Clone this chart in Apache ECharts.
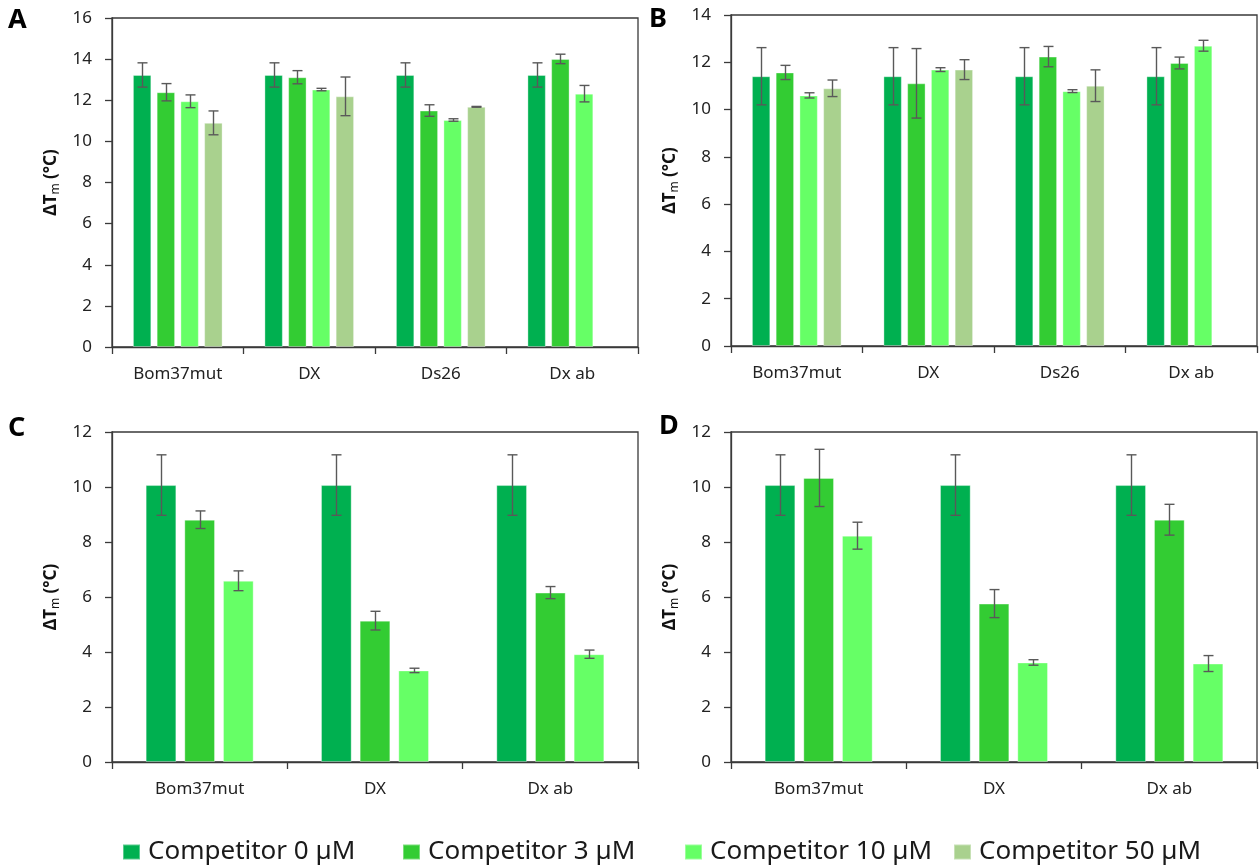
<!DOCTYPE html>
<html>
<head>
<meta charset="utf-8">
<script src="https://cdn.jsdelivr.net/npm/echarts@6/dist/echarts.min.js"></script>
<style>
html,body{margin:0;padding:0;background:#fff;}
#chart{width:1260px;height:867px;}
</style>
</head>
<body>
<div id="chart"></div>
<script>
// ---------- DATA ----------
const cats4 = ['Bom37mut', 'DX', 'Ds26', 'Dx ab'];
const cats3 = ['Bom37mut', 'DX', 'Dx ab'];
const seriesNames = ['Competitor 0 µM', 'Competitor 3 µM', 'Competitor 10 µM', 'Competitor 50 µM'];
const colors = ['#00B050', '#33CC33', '#66FF66', '#A9D18E'];

// Panel A
const A_c0 = [13.23, 13.23, 13.23, 13.23];
const A_c0_err = [0.59, 0.59, 0.59, 0.59];
const A_c3 = [12.39, 13.12, 11.50, 14.01];
const A_c3_err = [0.42, 0.32, 0.28, 0.23];
const A_c10 = [11.95, 12.52, 11.04, 12.32];
const A_c10_err = [0.31, 0.06, 0.06, 0.40];
const A_c50 = [10.90, 12.19, 11.68, null];
const A_c50_err = [0.58, 0.94, 0.02, null];

// Panel B
const B_c0 = [11.41, 11.41, 11.41, 11.41];
const B_c0_err = [1.21, 1.21, 1.21, 1.21];
const B_c3 = [11.57, 11.11, 12.24, 11.97];
const B_c3_err = [0.30, 1.47, 0.43, 0.25];
const B_c10 = [10.60, 11.69, 10.78, 12.70];
const B_c10_err = [0.11, 0.08, 0.06, 0.23];
const B_c50 = [10.90, 11.69, 11.01, null];
const B_c50_err = [0.35, 0.42, 0.67, null];

// Panel C
const C_c0 = [10.07, 10.07, 10.07];
const C_c0_err = [1.10, 1.10, 1.10];
const C_c3 = [8.81, 5.14, 6.16];
const C_c3_err = [0.32, 0.34, 0.22];
const C_c10 = [6.59, 3.33, 3.92];
const C_c10_err = [0.36, 0.08, 0.15];

// Panel D
const D_c0 = [10.07, 10.07, 10.07];
const D_c0_err = [1.10, 1.10, 1.10];
const D_c3 = [10.33, 5.76, 8.81];
const D_c3_err = [1.04, 0.51, 0.56];
const D_c10 = [8.23, 3.62, 3.58];
const D_c10_err = [0.49, 0.10, 0.29];

// Y-axis ranges / ticks
const yMax = [16, 14, 12, 12];
const yInterval = 2;

// ---------- CHART ----------
const FONT = 'Noto Sans';
const TXT = '#222';
const LINE = '#3a3a3a';

const panels = [
  {cats: cats4, vals: [A_c0, A_c3, A_c10, A_c50], errs: [A_c0_err, A_c3_err, A_c10_err, A_c50_err], bw: 0.14, gap: 0.29},
  {cats: cats4, vals: [B_c0, B_c3, B_c10, B_c50], errs: [B_c0_err, B_c3_err, B_c10_err, B_c50_err], bw: 0.14, gap: 0.29},
  {cats: cats3, vals: [C_c0, C_c3, C_c10], errs: [C_c0_err, C_c3_err, C_c10_err], bw: 0.175, gap: 0.26},
  {cats: cats3, vals: [D_c0, D_c3, D_c10], errs: [D_c0_err, D_c3_err, D_c10_err], bw: 0.175, gap: 0.26}
];

const grids = [
  {left: 112, top: 18, right: 622, height: 329},
  {left: 731, top: 15, right: 3, height: 331},
  {left: 112, top: 432, right: 622, height: 330},
  {left: 731, top: 432, right: 3, height: 330}
].map(g => Object.assign(g, {show: true, borderColor: LINE, borderWidth: 1.3, backgroundColor: 'transparent'}));

const xAxes = panels.map((p, i) => ({
  type: 'category', gridIndex: i, data: p.cats,
  axisLine: {lineStyle: {color: LINE, width: 1.3}},
  axisTick: {show: true, length: 7, lineStyle: {color: LINE, width: 1.3}},
  axisLabel: {fontFamily: FONT, fontSize: 17, color: TXT, margin: 19}
}));

const yAxes = panels.map((p, i) => ({
  type: 'value', gridIndex: i, min: 0, max: yMax[i], interval: yInterval,
  axisLine: {show: true, lineStyle: {color: LINE, width: 1.3}},
  axisTick: {show: true, length: 7, lineStyle: {color: LINE, width: 1.3}},
  axisLabel: {fontFamily: FONT, fontSize: 17, color: TXT, margin: 20},
  splitLine: {show: false},
  name: '{b|ΔT}{s|m}{b| (°C)}',
  nameLocation: 'middle', nameRotate: 90, nameGap: 50,
  nameTextStyle: {
    rich: {
      b: {fontFamily: FONT, fontSize: 17, fontWeight: 'bold', color: '#111'},
      s: {fontFamily: FONT, fontSize: 12, color: '#111', padding: [9, 0, 0, 0]}
    }
  }
}));

const series = [];
panels.forEach((p, gi) => {
  const n = p.vals.length;
  p.vals.forEach((vals, si) => {
    series.push({
      type: 'bar', name: seriesNames[si], xAxisIndex: gi, yAxisIndex: gi,
      data: vals, barWidth: (p.bw * 100) + '%', barGap: (p.gap * 100) + '%',
      itemStyle: {color: colors[si], borderColor: 'rgba(255,255,255,0.35)', borderWidth: 1},
      silent: true
    });
  });
  p.vals.forEach((vals, si) => {
    const errs = p.errs[si];
    const data = [];
    vals.forEach((v, k) => { if (v != null) data.push([k, v, errs[k]]); });
    series.push({
      type: 'custom', xAxisIndex: gi, yAxisIndex: gi, data: data, z: 10, silent: true,
      encode: {x: 0, y: 1},
      renderItem: function (params, api) {
        const k = api.value(0), v = api.value(1), e = api.value(2);
        const band = api.size([1, 0])[0];
        const bw = band * p.bw, gap = bw * p.gap;
        const total = n * bw + (n - 1) * gap;
        const off = -total / 2 + bw / 2 + si * (bw + gap);
        const hi = api.coord([k, v + e]);
        const lo = api.coord([k, v - e]);
        const cx = Math.round(hi[0] + off) + 0.5;
        const cap = 5;
        const st = {stroke: '#595959', lineWidth: 1.4};
        return {
          type: 'group',
          children: [
            {type: 'line', shape: {x1: cx, y1: hi[1], x2: cx, y2: lo[1]}, style: st},
            {type: 'line', shape: {x1: cx - cap, y1: hi[1], x2: cx + cap, y2: hi[1]}, style: st},
            {type: 'line', shape: {x1: cx - cap, y1: lo[1], x2: cx + cap, y2: lo[1]}, style: st}
          ]
        };
      }
    });
  });
});

const legendLefts = [122, 402, 684, 953];
const legends = seriesNames.map((nm, i) => ({
  data: [nm], left: legendLefts[i], top: 839, orient: 'horizontal', padding: 0,
  icon: 'rect', itemWidth: 17, itemHeight: 15, selectedMode: false,
  textStyle: {fontFamily: FONT, fontSize: 26, color: '#1a1a1a', padding: [0, 0, 0, 3]}
}));

const labelFont = 'bold 27px "Noto Sans"';
const graphic = [
  {type: 'text', left: 8, top: 7, style: {text: 'A', font: labelFont, fill: '#000'}},
  {type: 'text', left: 649, top: 6, style: {text: 'B', font: labelFont, fill: '#000'}},
  {type: 'text', left: 8, top: 415, style: {text: 'C', font: labelFont, fill: '#000'}},
  {type: 'text', left: 659, top: 413, style: {text: 'D', font: labelFont, fill: '#000'}}
];

const chart = echarts.init(document.getElementById('chart'), null, {renderer: 'canvas'});
chart.setOption({
  animation: false,
  backgroundColor: '#fff',
  grid: grids,
  xAxis: xAxes,
  yAxis: yAxes,
  legend: legends,
  graphic: graphic,
  series: series
});
</script>
</body>
</html>
